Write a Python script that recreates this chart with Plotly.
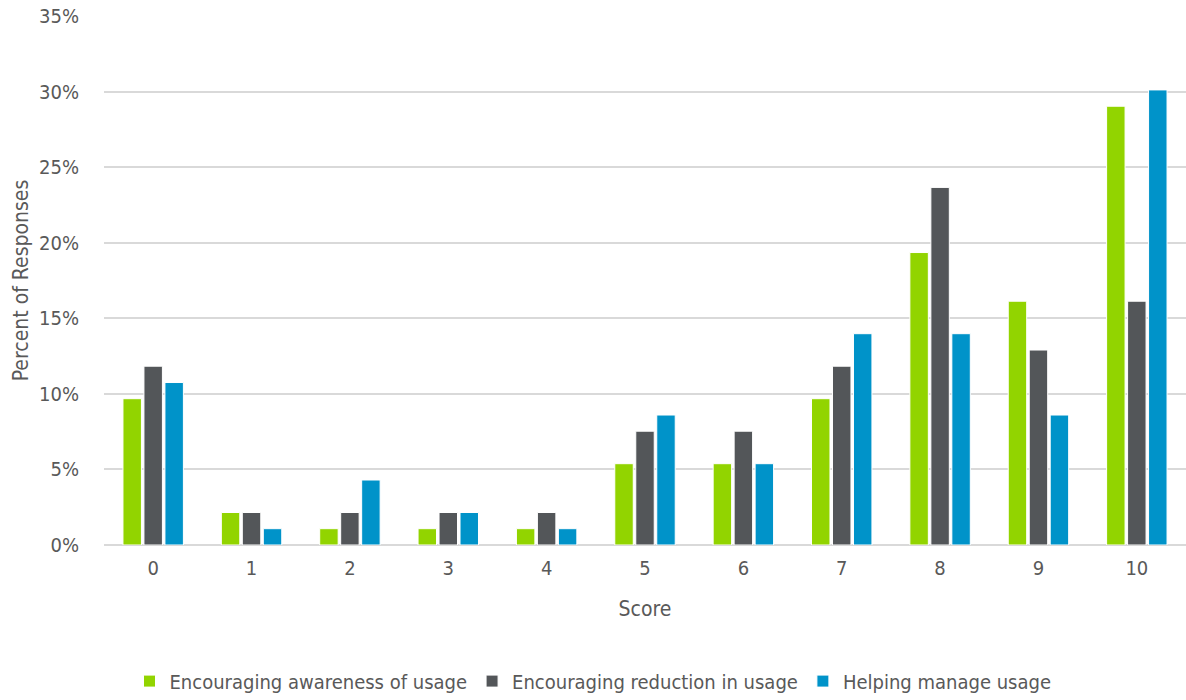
import plotly.graph_objects as go

scores = ["0", "1", "2", "3", "4", "5", "6", "7", "8", "9", "10"]
awareness = [9.68, 2.15, 1.08, 1.08, 1.08, 5.38, 5.38, 9.68, 19.35, 16.13, 29.03]
reduction = [11.83, 2.15, 2.15, 2.15, 2.15, 7.53, 7.53, 11.83, 23.66, 12.90, 16.13]
managing = [10.75, 1.08, 4.30, 2.15, 1.08, 8.60, 5.38, 13.98, 13.98, 8.60, 30.11]

series_names = ["Encouraging awareness of usage", "Encouraging reduction in usage", "Helping manage usage"]
colors = ["#92D400", "#535659", "#0093C9"]
y_ticks = [0, 5, 10, 15, 20, 25, 30, 35]

FONT = "Liberation Sans Narrow, Arial Narrow, DejaVu Sans Condensed, Roboto, sans-serif"

fig = go.Figure()
for name, vals, col in zip(series_names, [awareness, reduction, managing], colors):
    fig.add_trace(go.Bar(
        x=scores, y=vals, name=name,
        marker=dict(color=col, line=dict(color="white", width=1)),
    ))

fig.update_layout(
    width=1186, height=700,
    margin=dict(l=104, r=0, t=16, b=155),
    plot_bgcolor="white", paper_bgcolor="white",
    barmode="group", bargap=0.36, bargroupgap=0.12,
    font=dict(family=FONT, color="#595959", size=20),
    legend=dict(orientation="h", xref="container", x=0.5, xanchor="center",
                yref="container", y=0.027, yanchor="middle",
                font=dict(size=20), itemwidth=30, traceorder="normal"),
    xaxis=dict(
        title=dict(text="Score", font=dict(size=21), standoff=22),
        tickfont=dict(size=20), showgrid=False, showline=False,
        ticks="outside", ticklen=5, tickcolor="white",
    ),
    yaxis=dict(
        title=dict(text="Percent of Responses", font=dict(size=21), standoff=4),
        range=[0, 35], tickvals=y_ticks, ticktext=[f"{v}%" for v in y_ticks],
        tickfont=dict(size=20), showgrid=True, gridcolor="#D9D9D9", gridwidth=2,
        zeroline=True, zerolinecolor="#D9D9D9", zerolinewidth=2,
        ticks="outside", ticklen=20, tickcolor="white",
    ),
)

fig.write_html("out.html")
